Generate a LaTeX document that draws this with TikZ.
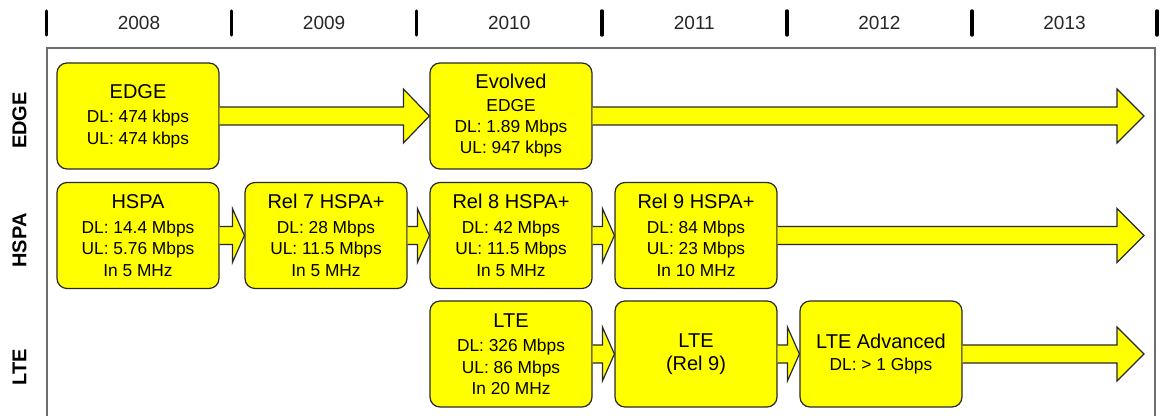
\documentclass[tikz,border=0pt]{standalone}
\usepackage{fontspec}
\setmainfont{Liberation Sans}
\usetikzlibrary{calc}
\definecolor{genyellow}{RGB}{255,255,0}
\definecolor{boxline}{RGB}{40,40,40}
\definecolor{framegray}{RGB}{110,110,110}
\newcommand\ttl[1]{{\fontsize{15}{16.1}\selectfont #1}}
% fat arrow: from, to, head length
\newcommand\fatarrow[3]{%
  \draw[fatarrow] ($(#1)+(0,9)$) -- ($(#2)+(-#3,9)$) -- ($(#2)+(-#3,27)$) -- (#2)
    -- ($(#2)+(-#3,-27)$) -- ($(#2)+(-#3,-9)$) -- ($(#1)+(0,-9)$);}
\tikzset{
  techbox/.style={draw=boxline, fill=genyellow, line width=0.9pt, rounded corners=7.5pt,
    minimum width=121.5pt, minimum height=79.5pt, inner sep=0pt, align=center,
    font=\fontsize{13}{16.1}\selectfont},
  fatarrow/.style={draw=boxline, fill=genyellow, line width=0.9pt, line join=miter},
  rowlabel/.style={rotate=90, font=\fontsize{15}{18}\selectfont\bfseries},
  yearlabel/.style={anchor=base, font=\fontsize{14.25}{17}\selectfont, text=black!85}
}
\begin{document}
\begin{tikzpicture}[x=0.75pt, y=0.75pt]
  \useasboundingbox (0,0) rectangle (1163,416);
  % time axis
  \foreach \i in {0,...,6}
    \draw[line width=2.6pt, line cap=round] ({46.5+185.1*\i},381) -- ({46.5+185.1*\i},405);
  \foreach \yr [count=\i from 0] in {2008,...,2013}
    \node[yearlabel] (y\yr) at ({139+185.1*\i},386) {\yr};
  % frame
  \draw[framegray, line width=1.1pt] (47,0) -- (47,368) -- (1155,368) -- (1155,0);
  % row labels
  \node[rowlabel] (lEdge) at (19.5,295.5) {EDGE};
  \node[rowlabel] (lHspa) at (19.5,175.5) {HSPA};
  \node[rowlabel] (lLte)  at (19.5,48.5)  {LTE};
  % EDGE row
  \node[techbox] (edge)   at (138,300) {\ttl{EDGE}\\[2.25pt] DL: 474 kbps\\ UL: 474 kbps};
  \node[techbox] (evedge) at (511,300) {\ttl{Evolved}\\[0.5pt] EDGE\\ DL: 1.89 Mbps\\ UL: 947 kbps};
  % HSPA row
  \node[techbox] (hspa) at (138,180.5) {\ttl{HSPA}\\[2.25pt] DL: 14.4 Mbps\\ UL: 5.76 Mbps\\ In 5 MHz};
  \node[techbox] (rel7) at (326,180.5) {\ttl{Rel 7 HSPA+}\\[2.25pt] DL: 28 Mbps\\ UL: 11.5 Mbps\\ In 5 MHz};
  \node[techbox] (rel8) at (511,180.5) {\ttl{Rel 8 HSPA+}\\[2.25pt] DL: 42 Mbps\\ UL: 11.5 Mbps\\ In 5 MHz};
  \node[techbox] (rel9) at (696,180.5) {\ttl{Rel 9 HSPA+}\\[2.25pt] DL: 84 Mbps\\ UL: 23 Mbps\\ In 10 MHz};
  % LTE row
  \node[techbox] (lte)    at (511,62) {\ttl{LTE}\\[2.25pt] DL: 326 Mbps\\ UL: 86 Mbps\\ In 20 MHz};
  \node[techbox] (lte9)   at (696,62) {\ttl{LTE}\\[1pt] \ttl{(Rel 9)}};
  \node[techbox] (lteadv) at (881,62) {\ttl{LTE Advanced}\\[1pt] DL: > 1 Gbps};
  \coordinate (edgeEnd) at (1144,300);
  \coordinate (hspaEnd) at (1144,180.5);
  \coordinate (lteEnd)  at (1144,62);
  % arrows
  \fatarrow{edge.east}{evedge.west}{26}
  \fatarrow{evedge.east}{edgeEnd}{27}
  \fatarrow{hspa.east}{rel7.west}{12}
  \fatarrow{rel7.east}{rel8.west}{12}
  \fatarrow{rel8.east}{rel9.west}{12}
  \fatarrow{rel9.east}{hspaEnd}{27}
  \fatarrow{lte.east}{lte9.west}{12}
  \fatarrow{lte9.east}{lteadv.west}{12}
  \fatarrow{lteadv.east}{lteEnd}{27}
\end{tikzpicture}
\end{document}
